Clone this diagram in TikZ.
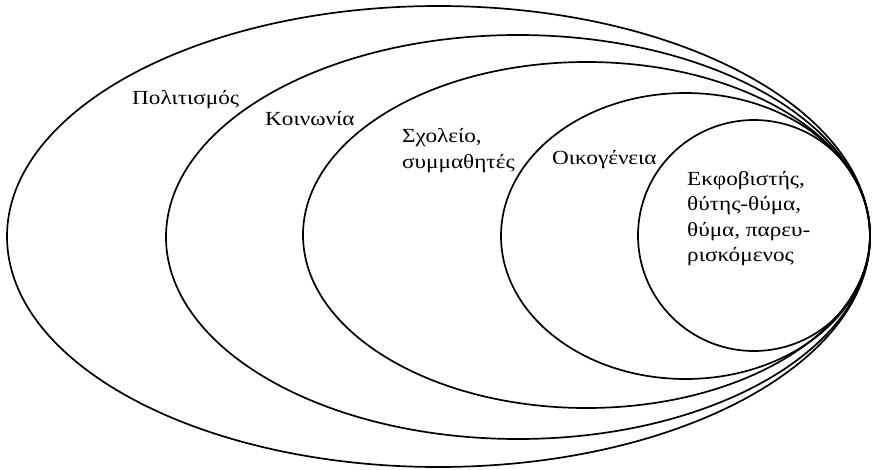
\documentclass[tikz,border=0pt]{standalone}
\usepackage{fontspec}
\setmainfont{Liberation Serif}[FakeStretch=1.16]
\usetikzlibrary{shapes.geometric}
\begin{document}
\begin{tikzpicture}[x=1pt,y=-1pt,
  ring/.style={draw, ellipse, line width=1.7pt, inner sep=0pt, outer sep=0pt},
  lbl/.style={anchor=base west, inner sep=0pt, font=\fontsize{20}{25.5}\selectfont, align=left}]
\useasboundingbox (0,0) rectangle (873,469);
\node[ring, minimum width=863pt, minimum height=461pt] (c1) at (438.5,236.5) {};
\node[ring, minimum width=704pt, minimum height=404pt] (c2) at (518,237) {};
\node[ring, minimum width=567pt, minimum height=346pt] (c3) at (586.5,235) {};
\node[ring, minimum width=369pt, minimum height=286pt] (c4) at (685.5,236) {};
\node[ring, minimum width=232pt, minimum height=231pt] (c5) at (754,235.5) {};
\node[lbl] (t1) at (132,104.5) {Πολιτισμός};
\node[lbl] (t2) at (265,125) {Κοινωνία};
\node[lbl] (t3) at (402,168) {Σχολείο,\\συμμαθητές};
\node[lbl] (t4) at (552,164) {Οικογένεια};
\node[lbl] (t5) at (687,261.5) {Εκφοβιστής,\\θύτης-θύμα,\\θύμα, παρευ-\\ρισκόμενος};
\end{tikzpicture}
\end{document}
